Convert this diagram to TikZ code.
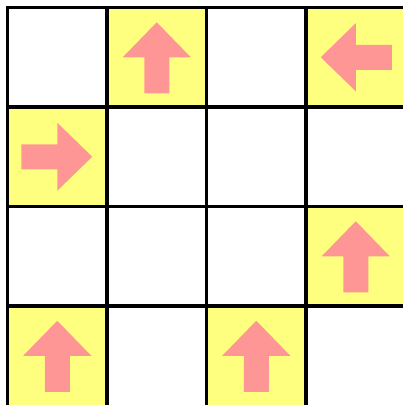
\documentclass[tikz,border=0pt]{standalone}
\definecolor{cellyellow}{RGB}{255,255,127}
\definecolor{arrowpink}{RGB}{255,150,150}
\tikzset{
  yellowcell/.style={fill=cellyellow, draw=none},
  gridline/.style={draw=black, line width=3.5pt, line cap=rect},
  bigarrow/.pic={\fill[arrowpink] (0,-35) -- (34,0) -- (12.5,0) -- (12.5,36) -- (-12.5,36) -- (-12.5,0) -- (-34,0) -- cycle;}
}
\begin{document}
\begin{tikzpicture}[x=1pt, y=-1pt]
\useasboundingbox (0,0) rectangle (403,405);
\fill[white] (0,0) rectangle (403,405);
\begin{scope}
\clip (0,0) rectangle (403,405);
% yellow cells (col,row)
\foreach \c/\r in {1/0,3/0,0/1,3/2,0/3,2/3}{
  \fill[yellowcell] ({7.5+99.5*\c},{7.5+99.5*\r}) rectangle ({7.5+99.5*(\c+1)},{7.5+99.5*(\r+1)});
}
% arrows
\pic at (156.75,57.25) {bigarrow};
\pic[rotate=90] at (355.75,57.25) {bigarrow};
\pic[rotate=-90] at (57.25,156.75) {bigarrow};
\pic at (355.75,256.25) {bigarrow};
\pic at (57.25,355.75) {bigarrow};
\pic at (256.25,355.75) {bigarrow};
% grid lines
\foreach \k in {0,1,2,3}{
  \draw[gridline] ({7.5+99.5*\k},7.5) -- ({7.5+99.5*\k},420);
  \draw[gridline] (7.5,{7.5+99.5*\k}) -- (420,{7.5+99.5*\k});
}
\end{scope}
\end{tikzpicture}
\end{document}
